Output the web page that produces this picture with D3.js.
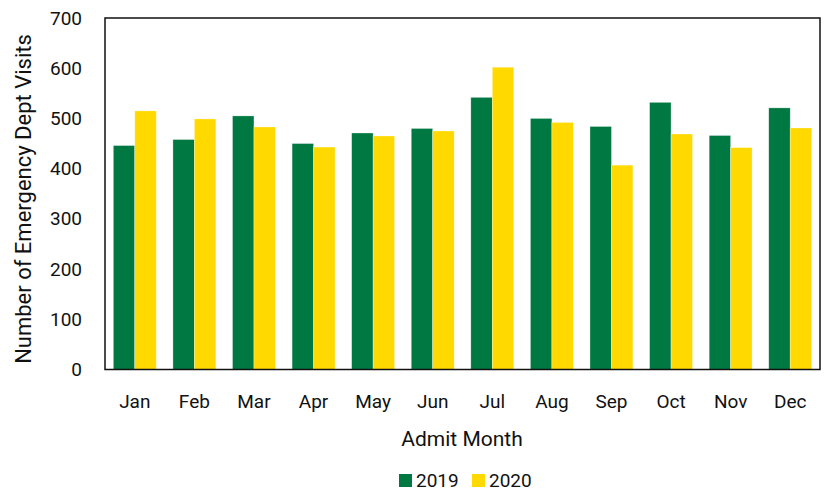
<!DOCTYPE html>
<html><head><meta charset="utf-8">
<script src="https://cdn.jsdelivr.net/npm/d3@7"></script>
<style>body{margin:0;background:#fff}svg{display:block}text{font-family:Roboto,"Noto Sans",sans-serif;fill:#111}</style>
</head><body><svg id="c" width="824" height="493"></svg>
<script>
const months = ["Jan","Feb","Mar","Apr","May","Jun","Jul","Aug","Sep","Oct","Nov","Dec"];
const series = ["2019","2020"];
const values2019 = [446,458,505,450,471,480,542,500,484,532,466,521];
const values2020 = [515,499,483,443,465,475,602,492,407,469,442,481];
const yTicks = [0,100,200,300,400,500,600,700];
const colors = ["#007841","#FFD900"];

const svg = d3.select("#c");
const L=105,R=820,T=18,B=369.5;
const x = d3.scaleBand().domain(months).range([L,R]).paddingInner(0.28).paddingOuter(0.14);
const xs = d3.scaleBand().domain(series).range([0,x.bandwidth()]);
const y = d3.scaleLinear().domain([0,700]).range([B,T]);
const data = months.map((m,i)=>({m, v:[values2019[i],values2020[i]]}));

const g = svg.append("g");
g.selectAll("g.grp").data(data).join("g").attr("transform",d=>`translate(${x(d.m)},0)`)
 .selectAll("rect").data(d=>d.v.map((v,j)=>({s:series[j],v,j}))).join("rect")
 .attr("x",d=>xs(d.s)).attr("width",xs.bandwidth())
 .attr("y",d=>y(d.v)).attr("height",d=>B-y(d.v))
 .attr("fill",d=>colors[d.j]).attr("stroke","#fff").attr("stroke-opacity",0.5).attr("stroke-width",0.6);

svg.append("rect").attr("x",L).attr("y",T).attr("width",R-L).attr("height",B-T)
 .attr("fill","none").attr("stroke","#111").attr("stroke-width",1.5);

const ya = svg.append("g").attr("transform",`translate(${L},0)`)
 .call(d3.axisLeft(y).tickValues(yTicks).tickSize(0).tickPadding(23));
ya.select(".domain").remove();
ya.selectAll("text").attr("font-size",19).style("font-family","Roboto");

const xa = svg.append("g").attr("transform",`translate(0,${B})`)
 .call(d3.axisBottom(x).tickSize(0).tickPadding(25));
xa.select(".domain").remove();
xa.selectAll("text").attr("font-size",19).style("font-family","Roboto");

svg.append("text").attr("x",462).attr("y",446).attr("text-anchor","middle").attr("font-size",21).text("Admit Month");
svg.append("text").attr("transform","translate(31,199) rotate(-90)").attr("text-anchor","middle").attr("font-size",22).text("Number of Emergency Dept Visits");

const lg = svg.append("g");
const lx = [399,472];
series.forEach((s,i)=>{
  lg.append("rect").attr("x",lx[i]).attr("y",474).attr("width",13).attr("height",13).attr("fill",colors[i]);
  lg.append("text").attr("x",lx[i]+17).attr("y",487).attr("font-size",19).text(s);
});
</script></body></html>
